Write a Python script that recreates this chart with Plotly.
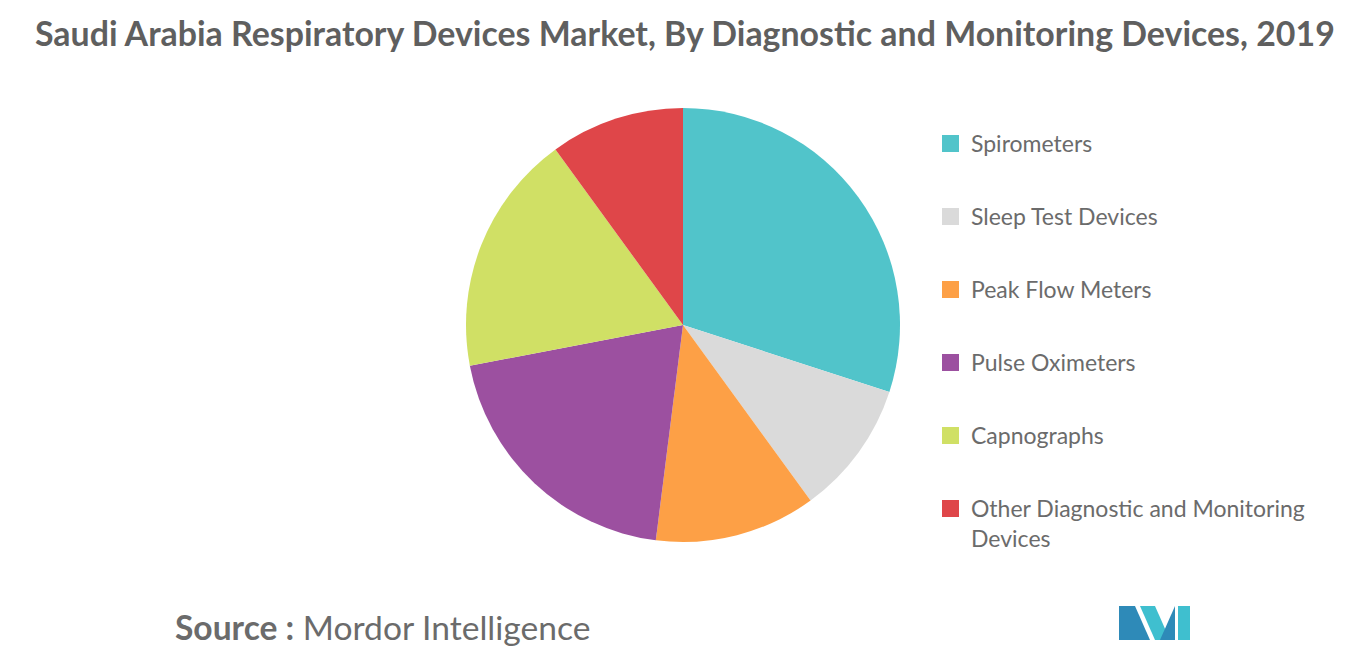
import plotly.graph_objects as go

labels = ["Spirometers", "Sleep Test Devices", "Peak Flow Meters", "Pulse Oximeters",
          "Capnographs", "Other Diagnostic and Monitoring Devices"]
legend_text = ["Spirometers", "Sleep Test Devices", "Peak Flow Meters", "Pulse Oximeters",
               "Capnographs", "Other Diagnostic and Monitoring<br>Devices"]
values = [30, 10, 12, 20, 18, 10]
colors = ["#51c4ca", "#dadada", "#fda046", "#9c50a0", "#d0e065", "#df4649"]

W, H = 1366, 655
OX, OY = 8, 8
def px(x): return (x - OX) / W
def py(y): return 1 - (y - OY) / H

fig = go.Figure(go.Pie(labels=labels, values=values, sort=False, direction="clockwise",
                       rotation=0, marker=dict(colors=colors), textinfo="none",
                       hoverinfo="label+percent",
                       domain=dict(x=[px(683-217), px(683+217)], y=[py(542), py(108)])))

shapes, ann = [], []
for i, (t, c) in enumerate(zip(legend_text, colors)):
    yc = 144 + 73*i
    shapes.append(dict(type="rect", xref="paper", yref="paper",
                       x0=px(942), x1=px(959), y0=py(yc+8), y1=py(yc-9),
                       fillcolor=c, line=dict(width=0)))
    ann.append(dict(text=t, x=px(969), y=py(yc-17), xref="paper", yref="paper",
                    xanchor="left", yanchor="top", showarrow=False, align="left",
                    font=dict(size=23, color="#6b6b6b", family="Lato")))

ann.append(dict(text="<b>Saudi Arabia Respiratory Devices Market, By Diagnostic and Monitoring Devices, 2019</b>",
                x=px(33), y=py(33), xref="paper", yref="paper", xanchor="left", yanchor="middle",
                showarrow=False, font=dict(size=33.9, color="#5f5f5f", family="Lato")))
ann.append(dict(text="<b>Source :</b> Mordor Intelligence", x=px(173), y=py(627), xref="paper",
                yref="paper", xanchor="left", yanchor="middle", showarrow=False,
                font=dict(size=33.6, color="#6b6b6b", family="Lato")))

def p(pts, col):
    d = "M " + " L ".join(f"{px(x)},{py(y)}" for x, y in pts) + " Z"
    shapes.append(dict(type="path", xref="paper", yref="paper", path=d,
                       fillcolor=col, line=dict(width=0)))
p([(1119, 640), (1119, 606), (1135, 606), (1150, 640)], "#2e8ab8")
p([(1140, 606), (1155, 606), (1170, 640), (1155, 640)], "#3fbfcf")
p([(1160, 640), (1175, 606), (1175, 640)], "#2e8ab8")
p([(1178, 606), (1190, 606), (1190, 640), (1178, 640)], "#3fbfcf")

fig.update_layout(width=W, height=H, margin=dict(l=0, r=0, t=0, b=0), showlegend=False,
                  paper_bgcolor="white", shapes=shapes, annotations=ann)
fig.write_html("out.html")
